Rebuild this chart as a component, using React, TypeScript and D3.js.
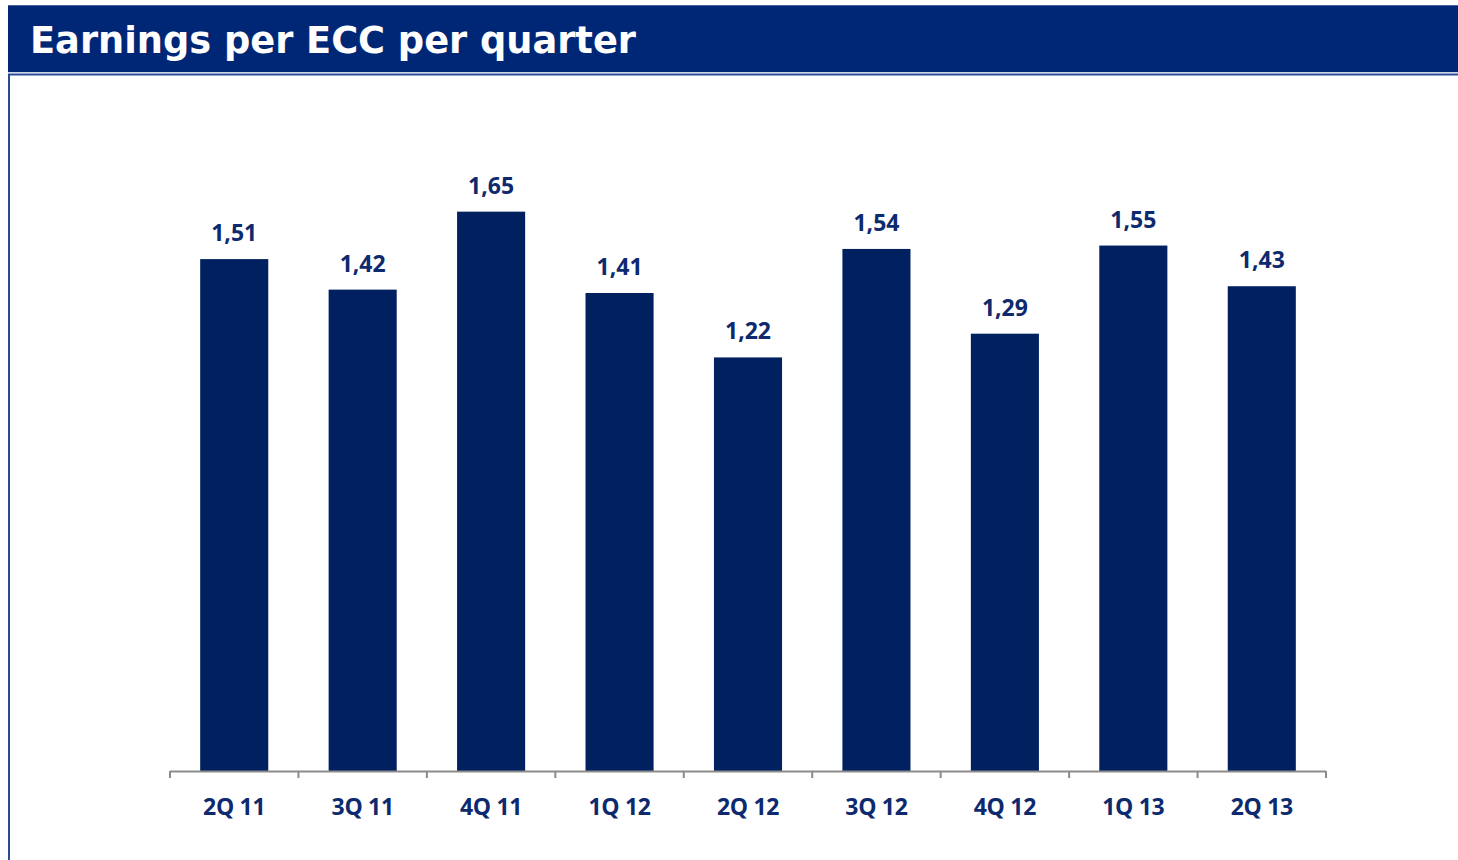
import React from "react";
import * as d3 from "d3";

const categories = ["2Q 11", "3Q 11", "4Q 11", "1Q 12", "2Q 12", "3Q 12", "4Q 12", "1Q 13", "2Q 13"];
const values = [1.51, 1.42, 1.65, 1.41, 1.22, 1.54, 1.29, 1.55, 1.43];
const title = "Earnings per ECC per quarter";

const W = 1458;
const H = 860;

export default function App() {
  const x = d3.scaleBand<string>().domain(categories).range([170, 1326]).paddingInner(0.47).paddingOuter(0.235);
  const band = d3.scaleBand<string>().domain(categories).range([170, 1326]);
  const y = d3.scaleLinear().domain([0, 1.8]).range([771, 771 - 1.8 * 339]);
  const fmt = (v: number) => d3.format(".2f")(v).replace(".", ",");
  const tickXs = categories.map((c) => band(c)!).concat([1326]);

  return (
    <svg width={W} height={H} style={{ position: "absolute", left: 0, top: 0 }}>
      <rect x={0} y={0} width={W} height={H} fill="#ffffff" />
      {/* header */}
      <rect x={8} y={5} width={W - 8} height={67} fill="#002776" />
      <line x1={8} x2={W} y1={5.5} y2={5.5} stroke="#4a63a0" strokeWidth={1} />
      <line x1={8} x2={W} y1={72.5} y2={72.5} stroke="#c9d3ea" strokeWidth={1} />
      <line x1={8} x2={W} y1={74.5} y2={74.5} stroke="#2a4a96" strokeWidth={2} />
      <line x1={9} x2={9} y1={74} y2={H} stroke="#2a4a96" strokeWidth={2} />
      <text x={30} y={53} fill="#ffffff" fontFamily="DejaVu Sans Condensed, DejaVu Sans" fontWeight="bold" fontSize={38} textLength={606} lengthAdjust="spacingAndGlyphs">
        {title}
      </text>
      {/* bars */}
      {categories.map((c, i) => (
        <g key={c}>
          <rect x={x(c)} y={y(values[i])} width={x.bandwidth()} height={y(0) - y(values[i])} fill="#002060" />
          <text
            x={x(c)! + x.bandwidth() / 2}
            y={y(values[i]) - 18}
            textAnchor="middle"
            fill="#0d2a6e"
            fontFamily="Open Sans"
            fontWeight="bold"
            fontSize={23}
          >
            {fmt(values[i])}
          </text>
          <text
            x={band(c)! + band.bandwidth() / 2}
            y={815}
            textAnchor="middle"
            fill="#0d2a6e"
            fontFamily="Open Sans"
            fontWeight="bold"
            fontSize={23}
            letterSpacing={-0.3}
          >
            {c}
          </text>
        </g>
      ))}
      {/* axis */}
      <line x1={170} x2={1326} y1={771.5} y2={771.5} stroke="#8c8c8c" strokeWidth={2} />
      {tickXs.map((t, i) => (
        <line key={i} x1={t} x2={t} y1={771} y2={778} stroke="#8c8c8c" strokeWidth={2} />
      ))}
    </svg>
  );
}
